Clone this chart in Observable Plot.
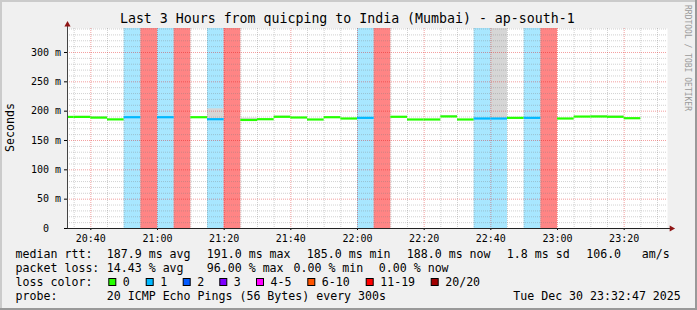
<!DOCTYPE html>
<html><head><meta charset="utf-8">
<script src="https://cdn.jsdelivr.net/npm/d3@7"></script>
<script src="https://cdn.jsdelivr.net/npm/@observablehq/plot@0.6"></script>
<style>
html,body{margin:0;padding:0;background:#f0f0f0;}
#wrap{position:relative;width:697px;height:310px;background:#f0f0f0;overflow:hidden;}
#wrap svg{position:absolute;left:0;top:0;}
</style></head><body><div id="wrap"></div>
<script>
// ---- data ----
const slotStart = ["20:30","20:35","20:40","20:45","20:50","20:55","21:00","21:05","21:10","21:15",
  "21:20","21:25","21:30","21:35","21:40","21:45","21:50","21:55","22:00","22:05",
  "22:10","22:15","22:20","22:25","22:30","22:35","22:40","22:45","22:50","22:55",
  "23:00","23:05","23:10","23:15","23:20"];
const medianMs = [190.2,190.2,189.0,186.0,189.7,null,189.7,null,189.7,186.3,
  null,185.0,186.3,190.4,189.2,185.8,189.7,187.5,188.6,null,
  190.4,185.8,185.8,191.0,185.8,187.5,187.5,188.6,188.6,null,
  187.5,190.8,190.9,190.4,188.0];
const lossCount = [0,0,0,0,1,19,1,19,0,1,
  19,0,0,0,0,0,0,0,1,19,
  0,0,0,0,0,1,1,0,1,19,
  0,0,0,0,0];
const smokeTopMs = [null,191.4,190.4,null,null,null,null,null,null,204.0,
  null,188.0,null,191.8,null,null,null,null,null,null,
  191.0,null,null,192.6,null,null,400,null,null,null,
  null,null,192.4,192.0,null];
const xTickLabels = ["20:40","21:00","21:20","21:40","22:00","22:20","22:40","23:00","23:20"];
const yTickValues = [0,0.05,0.10,0.15,0.20,0.25,0.30];
const lossLegend = ["0","1","2","3","4-5","6-10","11-19","20/20"];
const lossColors = ["#26ff00","#00b8ff","#0059ff","#7e00ff","#ff00ff","#ff5500","#ff0000","#a10000"];
const title = "Last 3 Hours from quicping to India (Mumbai) - ap-south-1";
const medianItems = ["187.9 ms avg","191.0 ms max","185.0 ms min","188.0 ms now","1.8 ms sd","106.0","am/s"];
const lossItems = ["14.43 % avg","96.00 % max","0.00 % min","0.00 % now"];
const probeText = "20 ICMP Echo Pings (56 Bytes) every 300s";
const dateText = "Tue Dec 30 23:32:47 2025";

// ---- build ----
const day = hm => { const [h,m] = hm.split(":").map(Number); return new Date(Date.UTC(2025,11,30,h,m)); };
const lossIndex = n => n===0?0:n===1?1:n===2?2:n===3?3:n<=5?4:n<=10?5:n<=19?6:7;
const slots = slotStart.map((s,i) => ({
  start: day(s), end: new Date(day(s).getTime()+300000),
  median: medianMs[i]==null?null:medianMs[i]/1000,
  loss: lossCount[i],
  color: lossColors[lossIndex(lossCount[i])],
  smoke: smokeTopMs[i]==null?null:smokeTopMs[i]/1000
}));
const x0 = day("20:33"), x1 = day("23:33");
const yTop = 0.3409;
const xTicks = xTickLabels.map(day);
const minorX = d3.utcMinute.every(5).range(x0, x1).filter(d => d.getUTCMinutes()%20!==0);
const majorX = d3.utcMinute.every(20).range(x0, x1);
const minorY = d3.range(1, 35).filter(i => i%5!==0).map(i => i/100);
const majorY = d3.range(1, 7).map(i => i/20);
const mono = "DejaVu Sans Mono, monospace";

const chart = Plot.plot({
  width: 697, height: 245,
  marginLeft: 67, marginRight: 30, marginTop: 28, marginBottom: 17,
  x: {type: "utc", domain: [x0, x1]},
  y: {domain: [0, yTop]},
  color: {type: "identity"},
  style: {background: "transparent", fontFamily: mono, fontSize: "10px", color: "#000", overflow: "visible"},
  marks: [
    Plot.frame({fill: "white", stroke: null}),
    Plot.rect(slots.filter(d => d.loss>0), {x1: "start", x2: "end", fill: "color", fillOpacity: d => d.loss===1?0.34:0.48}),
    Plot.rect(slots.filter(d => d.smoke!=null && d.median!=null), {x1: "start", x2: "end", y1: "median", y2: d => Math.min(d.smoke, yTop), fill: "#d6d6d6", clip: true}),
    Plot.ruleX(minorX, {stroke: "#7a7a7a", strokeOpacity: 0.35, strokeDasharray: "1,1"}),
    Plot.ruleY(minorY, {stroke: "#7a7a7a", strokeOpacity: 0.35, strokeDasharray: "1,1"}),
    Plot.ruleX(majorX, {stroke: "#e00000", strokeOpacity: 0.38, strokeDasharray: "1,1"}),
    Plot.ruleY(majorY, {stroke: "#e00000", strokeOpacity: 0.38, strokeDasharray: "1,1"}),
    Plot.ruleY(slots.filter(d => d.median!=null), {x1: "start", x2: "end", y: "median", stroke: "color", strokeWidth: 2.2, clip: true}),
    Plot.axisY({ticks: yTickValues, tickFormat: d => d===0 ? "0\u00a0\u00a0" : Math.round(d*1000)+" m", tickSize: 3, tickPadding: 3.5, label: null}),
    Plot.axisX({ticks: xTicks, tickFormat: d3.utcFormat("%H:%M"), tickSize: 2, tickPadding: 4, label: null}),
    Plot.ruleY([{y: 0, a: x0, b: new Date(x1.getTime()+80000)}], {y: "y", x1: "a", x2: "b", stroke: "#222"}),
    Plot.ruleX([{x: x0, a: 0, b: 0.347}], {x: "x", y1: "a", y2: "b", stroke: "#444"}),
    Plot.dot([{x: new Date(x1.getTime()+72000), y: 0}], {x: "x", y: "y", symbol: "triangle", r: 2.3, fill: "#8f1515", stroke: null, rotate: 90}),
    Plot.dot([{x: x0, y: 0.3475}], {x: "x", y: "y", symbol: "triangle", r: 2.3, fill: "#8f1515", stroke: null})
  ]
});
const wrap = document.getElementById("wrap");
wrap.appendChild(chart);

// ---- overlay text: title, labels, legend ----
const ov = d3.select(wrap).append("svg").attr("width", 697).attr("height", 310)
  .style("font-family", mono).style("pointer-events", "none");
ov.append("text").attr("x", 347.3).attr("y", 23.3).attr("text-anchor", "middle").attr("font-size", 13.25).attr("fill", "#000").text(title);
ov.append("text").attr("transform", "translate(14,127.5) rotate(-90)").attr("text-anchor", "middle").attr("font-size", 11.6).attr("fill", "#000").text("Seconds");
ov.append("text").attr("transform", "translate(685.2,5) rotate(90)").attr("font-size", 8).attr("fill", "#9a9a9a").text("RRDTOOL / TOBI OETIKER");

const fs = 11.6;
const line = (y, label) => ov.append("text").attr("x", 15.6).attr("y", y).attr("font-size", fs).text(label);
line(257.5, "median rtt:");
const mx = [106.8, 206.8, 306.8, 406.8, 506.8, 586.2, 641.8];
medianItems.forEach((t,i) => ov.append("text").attr("x", mx[i]).attr("y", 257.5).attr("font-size", fs).text(t));
line(271.5, "packet loss:");
const lx = [106.8, 206.8, 293.5, 378.8];
lossItems.forEach((t,i) => ov.append("text").attr("x", lx[i]).attr("y", 271.5).attr("font-size", fs).text(t));
line(285.5, "loss color:");
const bx = [108.3, 145.7, 182.7, 219.3, 256, 307.3, 365.7, 430.7];
lossLegend.forEach((t,i) => {
  ov.append("rect").attr("x", bx[i]+0.5).attr("y", 278.5).attr("width", 7).attr("height", 7).attr("fill", lossColors[i]).attr("stroke", "#000");
  ov.append("text").attr("x", bx[i]+14.5).attr("y", 285.5).attr("font-size", fs).text(t);
});
line(299.5, "probe:");
ov.append("text").attr("x", 106.8).attr("y", 299.5).attr("font-size", fs).text(probeText);
ov.append("text").attr("x", 680.8).attr("y", 299.5).attr("font-size", fs).attr("text-anchor", "end").text(dateText);

// 3D border
ov.append("path").attr("d", "M1,309V1H696").attr("fill", "none").attr("stroke", "#cbcbcb").attr("stroke-width", 2);
ov.append("path").attr("d", "M696,0V309H0").attr("fill", "none").attr("stroke", "#999999").attr("stroke-width", 2);
</script></body></html>
